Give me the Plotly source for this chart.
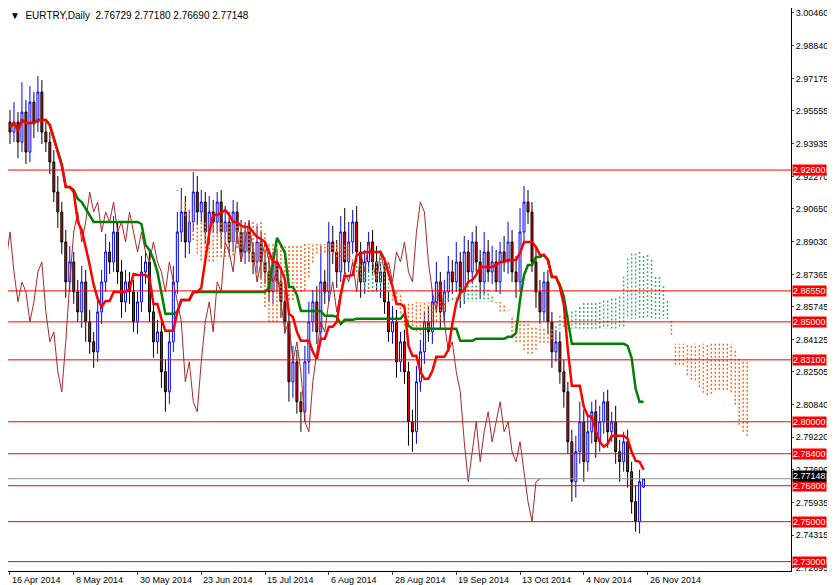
import plotly.graph_objects as go
import numpy as np

closes = [2.945,2.950,2.940,2.955,2.935,2.960,2.950,2.965,2.945,2.940,
2.930,2.915,2.905,2.890,2.870,2.880,2.865,2.855,2.870,2.850,
2.840,2.835,2.855,2.870,2.885,2.880,2.895,2.875,2.860,2.870,
2.865,2.850,2.860,2.875,2.880,2.855,2.840,2.845,2.825,2.815,
2.840,2.870,2.895,2.905,2.890,2.900,2.915,2.905,2.910,2.895,
2.905,2.900,2.910,2.895,2.900,2.890,2.905,2.895,2.885,2.895,
2.885,2.880,2.890,2.880,2.875,2.865,2.880,2.870,2.860,2.850,
2.820,2.830,2.810,2.805,2.830,2.850,2.860,2.845,2.870,2.865,
2.890,2.885,2.875,2.895,2.880,2.890,2.900,2.885,2.870,2.880,
2.890,2.880,2.870,2.875,2.860,2.845,2.850,2.830,2.840,2.825,
2.800,2.795,2.820,2.835,2.850,2.845,2.860,2.870,2.855,2.865,
2.875,2.870,2.880,2.865,2.885,2.875,2.890,2.880,2.870,2.885,
2.875,2.880,2.870,2.885,2.880,2.890,2.875,2.870,2.895,2.910,
2.905,2.880,2.865,2.855,2.870,2.850,2.835,2.840,2.825,2.815,
2.790,2.770,2.785,2.800,2.780,2.795,2.805,2.790,2.800,2.810,
2.795,2.800,2.785,2.780,2.790,2.775,2.760,2.750,2.770,2.77148]
first_open = 2.950
up_wick = [6,10,5,15,6,8,5,8,6,5, 5,6,8,5,6,8,5,6,8,6, 6,5,8,6,9,5,8,5,6,6,
5,6,5,8,5,6,5,6,5,6, 6,8,10,12,8,6,10,8,6,5, 8,6,5,6,8,5,6,5,6,5,
6,5,8,5,6,8,5,6,5,6, 6,8,6,5,8,10,6,8,18,6, 10,8,6,8,12,10,6,8,5,6,
5,6,8,5,6,5,8,6,5,6, 5,6,8,6,5,8,6,10,5,6, 8,6,10,5,8,6,5,8,6,10,
6,8,6,5,8,10,6,8,12,8, 6,5,8,6,5,6,5,6,5,6, 5,6,8,10,6,8,5,6,8,5,
6,5,8,6,5,6,5,8,6,1]
dn_wick = [6,5,8,5,6,5,8,5,6,5, 6,5,8,6,8,5,6,5,8,10, 6,8,5,6,5,6,5,6,8,5,
6,5,6,5,6,5,8,6,8,10, 6,5,6,5,8,6,5,6,5,6, 6,5,6,8,5,6,5,6,5,6,
5,6,5,8,6,5,6,5,8,6, 10,8,6,10,5,6,5,6,5,6, 5,6,8,5,6,5,6,5,8,6,
5,6,5,8,6,5,6,8,5,6, 12,10,6,5,6,5,6,5,8,6, 5,6,5,8,6,5,6,5,8,6,
5,6,5,6,5,6,5,8,5,6, 6,5,8,6,5,6,8,5,6,8, 6,10,8,6,10,5,6,8,5,6,
8,5,6,10,5,8,6,5,6,3]
tick_bars = [0,16,32,48,64,80,96,112,128,144,160]
tick_text = ["16 Apr 2014","8 May 2014","30 May 2014","23 Jun 2014","15 Jul 2014","6 Aug 2014",
             "28 Aug 2014","19 Sep 2014","13 Oct 2014","4 Nov 2014","26 Nov 2014"]
levels = [2.926,2.8655,2.85,2.831,2.80,2.784,2.768,2.75,2.73]
ytick_vals = [3.00460,2.98840,2.97175,2.95555,2.93935,2.92270,2.90650,2.89030,2.87365,2.85745,
              2.84125,2.82505,2.80840,2.79220,2.77600,2.75935,2.74315,2.72695]

n = len(closes)
x = np.arange(n)
opens = [first_open] + closes[:-1]
opens[-1] = 2.76729
highs = [max(o, c) + u/1000 for o, c, u in zip(opens, closes, up_wick)]
lows = [min(o, c) - d/1000 for o, c, d in zip(opens, closes, dn_wick)]
highs[-1] = 2.77180; lows[-1] = 2.76690

def mid(h, l, p, i):
    s = max(0, i-p+1)
    return (max(h[s:i+1]) + min(l[s:i+1]))/2
tenkan = [mid(highs, lows, 9, i) for i in range(n)]
kijun = [mid(highs, lows, 26, i) for i in range(n)]
spanA = [(t+k)/2 for t, k in zip(tenkan, kijun)]
spanB = [mid(highs, lows, 52, i) for i in range(n)]

F = "Liberation Sans"
fig = go.Figure()
ox, oy, gx, gy = [], [], [], []
for i in range(n):
    xi = i + 26
    a, b = spanA[i], spanB[i]
    if a >= b:
        gx += [xi, xi, None]; gy += [a, b, None]
    else:
        ox += [xi, xi, None]; oy += [a, b, None]
fig.add_trace(go.Scatter(x=ox, y=oy, mode="lines", line=dict(color="#FF6A1A", width=1.5, dash="2px,2px"), hoverinfo="skip"))
fig.add_trace(go.Scatter(x=gx, y=gy, mode="lines", line=dict(color="#3CB371", width=1.5, dash="2px,2px"), hoverinfo="skip"))
for lv in levels:
    fig.add_shape(type="line", xref="paper", x0=0, x1=1, y0=lv, y1=lv, line=dict(color="red", width=1))
fig.add_shape(type="line", xref="paper", x0=0, x1=1, y0=closes[-1], y1=closes[-1], line=dict(color="#8a9099", width=1))
fig.add_trace(go.Scatter(x=x-26, y=closes, mode="lines", line=dict(color="#A52A2A", width=1), hoverinfo="skip"))
fig.add_trace(go.Candlestick(x=x, open=opens, high=highs, low=lows, close=closes,
    increasing=dict(line=dict(color="blue", width=1), fillcolor="white"),
    decreasing=dict(line=dict(color="black", width=1), fillcolor="red"), whiskerwidth=0))
fig.add_trace(go.Scatter(x=x, y=kijun, mode="lines", line=dict(color="green", width=2.5), hoverinfo="skip"))
fig.add_trace(go.Scatter(x=x, y=tenkan, mode="lines", line=dict(color="red", width=2.5), hoverinfo="skip"))

for lv in levels:
    fig.add_annotation(xref="paper", x=1.0, y=lv, text=f"{lv:.5f}", showarrow=False, xanchor="left",
        bgcolor="red", font=dict(color="white", size=9, family=F), borderpad=0, xshift=1)
fig.add_annotation(xref="paper", x=1.0, y=closes[-1], text=f"{closes[-1]:.5f}", showarrow=False, xanchor="left",
    bgcolor="black", font=dict(color="white", size=9, family=F), borderpad=0, yshift=3, xshift=1)
for b, t in zip(tick_bars, tick_text):
    fig.add_annotation(x=b, yref="paper", y=0, text=t, showarrow=False, xanchor="left", yanchor="top",
        yshift=-2, font=dict(size=9, family=F, color="black"))
fig.add_annotation(xref="paper", yref="paper", x=0.0, y=1.0, text="▼  EURTRY,Daily  2.76729 2.77180 2.76690 2.77148",
    showarrow=False, xanchor="left", yanchor="top", font=dict(color="black", size=10, family=F))

fig.update_layout(width=835, height=585, margin=dict(l=0, r=52, t=0, b=22), plot_bgcolor="white",
    paper_bgcolor="white", showlegend=False,
    font=dict(family=F, size=9, color="black"),
    xaxis=dict(range=[-0.5, 196], tickvals=tick_bars, showticklabels=False, showgrid=False,
        rangeslider=dict(visible=False), showline=True, linecolor="black", mirror=True, ticks="outside", ticklen=3, zeroline=False),
    yaxis=dict(side="right", range=[2.7253, 3.0071], tickvals=ytick_vals, tickformat=".5f", showgrid=False,
        showline=True, linecolor="black", mirror=True, ticks="outside", ticklen=2, zeroline=False))
fig.write_html("out.html")
